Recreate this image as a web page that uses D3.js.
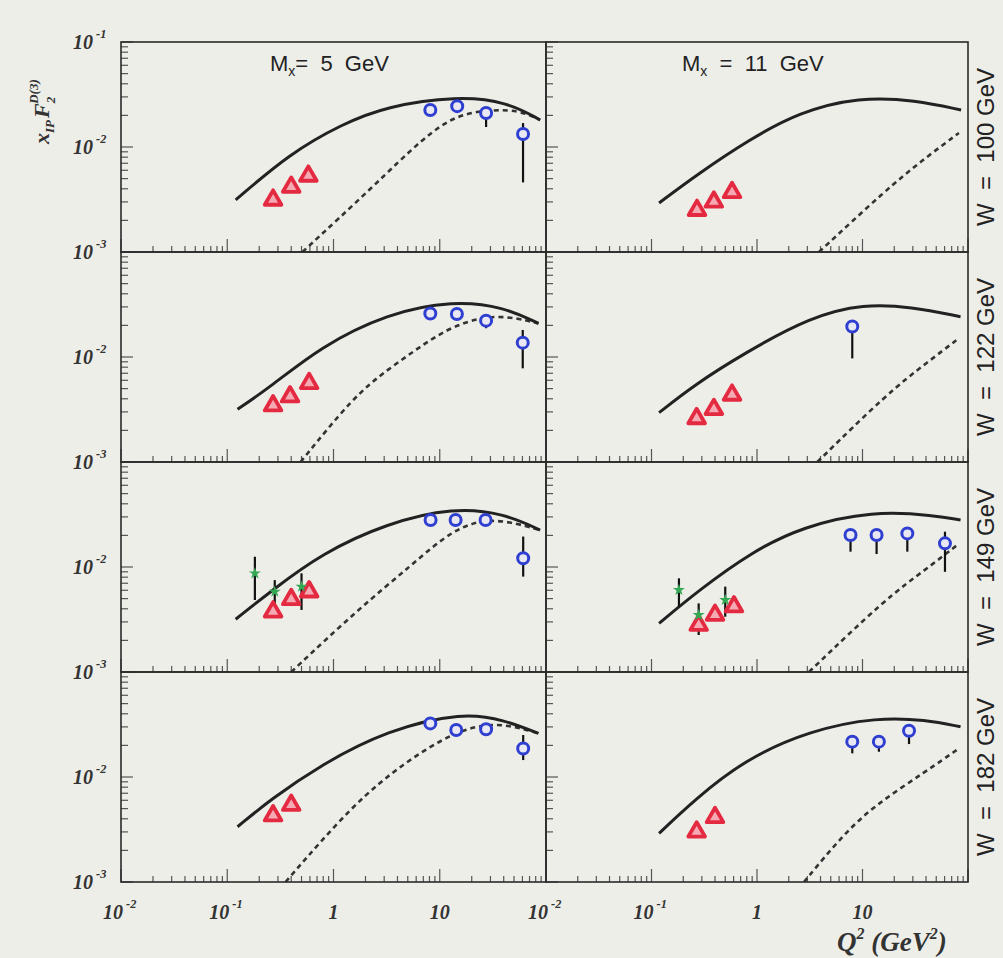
<!DOCTYPE html>
<html>
<head>
<meta charset="utf-8">
<script src="https://cdn.jsdelivr.net/npm/d3@7"></script>
<style>
  body { margin: 0; background: #eeeee9; }
  .tick-label { font-family: "Liberation Serif", "DejaVu Serif", serif; font-style: italic; font-weight: bold; fill: #333; }
  .panel-label { font-family: "Liberation Sans", Arial, sans-serif; fill: #222; white-space: pre; }
</style>
</head>
<body>
<svg id="chart"></svg>
<script>
// ---- data, panels ordered row by row: [W,Mx=5], [W,Mx=11]
const massLabels = ['5', '11'];
const wLabels = ['100', '122', '149', '182'];
const yTickValues = [1e-1, 1e-2, 1e-3];
const xTickLabels = [0.01, 0.1, 1, 10];

// solid model curve, [Q2, xF2]
const solidCurves = [
  [[0.12, 0.00313], [0.39, 0.0087], [1.2, 0.0165], [3.2, 0.0245], [14.6, 0.0305], [43, 0.027], [88, 0.0181]],
  [[0.118, 0.00293], [0.28, 0.0056], [0.84, 0.0117], [2.5, 0.0215], [9.3, 0.0300], [32, 0.028], [86, 0.0225]],
  [[0.125, 0.00318], [0.256, 0.0052], [0.755, 0.0125], [3.19, 0.026], [13.5, 0.0345], [40, 0.030], [85, 0.0209]],
  [[0.118, 0.00295], [0.253, 0.0054], [0.75, 0.0108], [3.23, 0.0242], [10.3, 0.0320], [29, 0.030], [85, 0.0242]],
  [[0.12, 0.00318], [0.264, 0.006], [0.78, 0.0135], [3.13, 0.026], [13.6, 0.0370], [40, 0.0324], [88, 0.0225]],
  [[0.118, 0.00291], [0.28, 0.006], [0.9, 0.014], [2.69, 0.0242], [12.4, 0.0343], [49, 0.031], [85, 0.028]],
  [[0.125, 0.00336], [0.256, 0.0061], [0.755, 0.013], [3.19, 0.028], [16.7, 0.0415], [40, 0.035], [85, 0.026]],
  [[0.118, 0.00291], [0.253, 0.006], [0.75, 0.0145], [3.23, 0.028], [13.8, 0.0370], [40, 0.035], [85, 0.0301]]
];

// dashed model curve, [Q2, xF2]
const dashedCurves = [
  [[0.51, 0.001], [2.37, 0.0042], [7.0, 0.0123], [14.6, 0.0205], [30, 0.0225], [55, 0.0225], [88, 0.0181]],
  [[3.87, 0.001], [16.7, 0.0039], [37, 0.0075], [82, 0.0136]],
  [[0.49, 0.001], [1.55, 0.0042], [3.19, 0.0075], [6.5, 0.0125], [13.5, 0.0202], [34.4, 0.026], [85, 0.0209]],
  [[3.73, 0.001], [17.2, 0.0045], [40, 0.0087], [82, 0.01507]],
  [[0.40, 0.001], [1.68, 0.0039], [5.37, 0.0103], [13.6, 0.0235], [31.7, 0.030], [88, 0.0225]],
  [[3.11, 0.001], [16.6, 0.005], [40, 0.0095], [79, 0.0162]],
  [[0.354, 0.001], [1.55, 0.0056], [4.57, 0.0135], [13.5, 0.027], [34.4, 0.034], [85, 0.026]],
  [[2.79, 0.001], [6.68, 0.0029], [13.8, 0.0056], [40, 0.0113], [82, 0.0187]]
];

// open circles, [Q2, value, low, high]
const circlePoints = [
  [[8.15, 0.0225, 0.0208, 0.0243], [14.6, 0.0245, 0.0228, 0.0263], [27.3, 0.0211, 0.0155, 0.0225], [60.8, 0.0133, 0.0046, 0.0169]],
  [],
  [[8.15, 0.026, 0.0242, 0.0278], [14.5, 0.0257, 0.0235, 0.0278], [27.3, 0.0222, 0.0188, 0.024], [60.4, 0.0137, 0.0078, 0.0181]],
  [[8.0, 0.0195, 0.0097, 0.021]],
  [[8.2, 0.028, 0.0262, 0.030], [14.1, 0.028, 0.0262, 0.030], [27, 0.028, 0.025, 0.031], [61, 0.0121, 0.0081, 0.0195]],
  [[7.7, 0.0202, 0.014, 0.0215], [13.6, 0.0202, 0.0133, 0.0215], [26.6, 0.0209, 0.014, 0.022], [60.5, 0.0168, 0.009, 0.0217]],
  [[8.15, 0.0324, 0.030, 0.034], [14.3, 0.028, 0.026, 0.030], [27.3, 0.0285, 0.0265, 0.030], [61, 0.0187, 0.0145, 0.0251]],
  [[8.0, 0.0217, 0.0168, 0.023], [14.3, 0.0217, 0.0174, 0.023], [27.6, 0.0276, 0.0206, 0.029]]
];

// triangles, [Q2, value]
const trianglePoints = [
  [[0.27, 0.00313], [0.40, 0.00416], [0.58, 0.0053]],
  [[0.27, 0.0025], [0.39, 0.003], [0.58, 0.0037]],
  [[0.27, 0.00344], [0.39, 0.00419], [0.59, 0.00562]],
  [[0.268, 0.0026], [0.39, 0.00318], [0.58, 0.00435]],
  [[0.27, 0.00375], [0.40, 0.00492], [0.59, 0.00582]],
  [[0.28, 0.0028], [0.40, 0.00349], [0.605, 0.00419]],
  [[0.27, 0.00429], [0.40, 0.0054]],
  [[0.268, 0.00301], [0.40, 0.00413]]
];

// green points (W = 149 GeV only), [Q2, value, low, high]
const greenPoints = [
  [], [], [], [],
  [[0.182, 0.0087, 0.00485, 0.01253], [0.28, 0.00582, 0.00336, 0.0075], [0.50, 0.0065, 0.0039, 0.0087]],
  [[0.182, 0.00604, 0.0042, 0.0078], [0.28, 0.00349, 0.00225, 0.0045], [0.50, 0.00485, 0.00336, 0.0065]],
  [], []
];

// ---- layout
const W = 1003, H = 958;
const colRange = [[121, 546], [546, 968]];
const top0 = 42, rowH = 210;

const svg = d3.select('#chart').attr('width', W).attr('height', H);
svg.append('rect').attr('width', W).attr('height', H).attr('fill', '#eeeee9');

const isDecade = t => Math.abs(Math.log10(t) - Math.round(Math.log10(t))) < 1e-6;

// "10" with a superscript exponent, base ends at anchorEndAt
function powerLabel(g, y, exp, anchorEndAt, size) {
  g.append('text').attr('class', 'tick-label')
    .attr('x', anchorEndAt).attr('y', y)
    .attr('text-anchor', 'end')
    .attr('font-size', size)
    .text('10');
  g.append('text').attr('class', 'tick-label')
    .attr('x', anchorEndAt + 3).attr('y', y - size * 0.55)
    .attr('font-size', size * 0.62)
    .text(exp);
}

for (let r = 0; r < 4; r++) {
  for (let c = 0; c < 2; c++) {
    const i = r * 2 + c;
    const top = top0 + rowH * r, bottom = top + rowH;
    const [x0, x1] = colRange[c];

    const x = d3.scaleLog().domain([0.01, 100]).range([x0, x1]);
    const y = d3.scaleLog().domain([1e-3, 1e-1]).range([bottom, top]);

    const g = svg.append('g');
    const clipId = `clip-${i}`;
    g.append('clipPath').attr('id', clipId)
      .append('rect').attr('x', x0).attr('y', top).attr('width', x1 - x0).attr('height', rowH);

    // x ticks on the bottom axis, pointing up
    g.append('g').selectAll('line')
      .data(x.ticks())
      .join('line')
      .attr('x1', d => x(d)).attr('x2', d => x(d))
      .attr('y1', bottom).attr('y2', d => bottom - (isDecade(d) ? 13 : 6))
      .attr('stroke', '#555').attr('stroke-width', 1.2);

    // y ticks on the left edge, pointing right
    g.append('g').selectAll('line')
      .data(y.ticks())
      .join('line')
      .attr('x1', x0).attr('x2', d => x0 + (isDecade(d) ? 12 : 7))
      .attr('y1', d => y(d)).attr('y2', d => y(d))
      .attr('stroke', '#555').attr('stroke-width', 1.2);

    // smooth curves through the read points
    const line = d3.line()
      .x(d => x(d[0]))
      .y(d => y(d[1]))
      .curve(d3.curveBasis);

    const plot = g.append('g').attr('clip-path', `url(#${clipId})`);

    plot.append('path')
      .datum(dashedCurves[i])
      .attr('d', line)
      .attr('fill', 'none')
      .attr('stroke', '#333')
      .attr('stroke-width', 2.6)
      .attr('stroke-dasharray', '5,4');

    plot.append('path')
      .datum(solidCurves[i])
      .attr('d', line)
      .attr('fill', 'none')
      .attr('stroke', '#222')
      .attr('stroke-width', 3);

    // error bars
    const bars = circlePoints[i].concat(greenPoints[i]);
    plot.append('g').selectAll('line')
      .data(bars)
      .join('line')
      .attr('x1', d => x(d[0])).attr('x2', d => x(d[0]))
      .attr('y1', d => y(d[2])).attr('y2', d => y(d[3]))
      .attr('stroke', '#111').attr('stroke-width', 2.2);

    // triangles
    plot.append('g').selectAll('path')
      .data(trianglePoints[i])
      .join('path')
      .attr('transform', d => `translate(${x(d[0])},${y(d[1])})`)
      .attr('d', d3.symbol().type(d3.symbolTriangle).size(120))
      .attr('fill', '#f5aab3')
      .attr('stroke', '#e42a40')
      .attr('stroke-width', 3.8)
      .attr('stroke-linejoin', 'round');

    // green points
    plot.append('g').selectAll('path')
      .data(greenPoints[i])
      .join('path')
      .attr('transform', d => `translate(${x(d[0])},${y(d[1])})`)
      .attr('d', d3.symbol().type(d3.symbolStar).size(45))
      .attr('fill', '#35a853');

    // open circles
    plot.append('g').selectAll('circle')
      .data(circlePoints[i])
      .join('circle')
      .attr('cx', d => x(d[0])).attr('cy', d => y(d[1]))
      .attr('r', 5.5)
      .attr('fill', '#e8e8f4')
      .attr('stroke', '#2f3fd0')
      .attr('stroke-width', 3);

    // frame
    g.append('rect')
      .attr('x', x0).attr('y', top)
      .attr('width', x1 - x0).attr('height', rowH)
      .attr('fill', 'none')
      .attr('stroke', '#2a2a2a')
      .attr('stroke-width', 1.6);

    // y tick labels, left column only
    if (c === 0) {
      const vals = r === 0 ? yTickValues : yTickValues.slice(1);
      vals.forEach(v => powerLabel(svg, y(v) + 7, String(Math.round(Math.log10(v))), 93, 20));
    }

    // x tick labels, bottom row only
    if (r === 3) {
      xTickLabels.forEach(v => {
        const px = x(v), py = 919;
        if (v < 1) {
          powerLabel(svg, py, String(Math.round(Math.log10(v))), px + 2, 20);
        } else {
          svg.append('text').attr('class', 'tick-label')
            .attr('x', px).attr('y', py)
            .attr('text-anchor', 'middle')
            .attr('font-size', 20)
            .text(v === 1 ? '1' : '10');
        }
      });
    }

    // W labels on the right
    if (c === 1) {
      svg.append('text').attr('class', 'panel-label')
        .attr('transform', `translate(994,${(top + bottom) / 2}) rotate(-90)`)
        .attr('text-anchor', 'middle')
        .attr('font-size', 24)
        .text(`W  =  ${wLabels[r]} GeV`);
    }
  }
}

// column headers
const headerPos = [{ x: 270, eq: '=  ' }, { x: 682, eq: '  =  ' }];
headerPos.forEach((h, c) => {
  const t = svg.append('text').attr('class', 'panel-label')
    .attr('x', h.x).attr('y', 71)
    .attr('font-size', 22);
  t.append('tspan').text('M');
  t.append('tspan').attr('font-size', 14).attr('dy', 5).text('x');
  t.append('tspan').attr('dy', -5).text(h.eq + massLabels[c] + '  GeV');
});

// y-axis title
const yt = svg.append('text').attr('class', 'tick-label')
  .attr('transform', 'translate(49,144) rotate(-90)')
  .attr('font-size', 22);
yt.append('tspan').text('x');
yt.append('tspan').attr('font-size', 13).attr('dy', 5).text('IP');
yt.append('tspan').attr('dy', -5).attr('dx', 2).text('F');
yt.append('tspan').attr('font-size', 13).attr('dy', 6).text('2');
yt.append('tspan').attr('font-size', 13).attr('dy', -17).attr('dx', -7).text('D(3)');

// x-axis title
const xt = svg.append('text').attr('class', 'tick-label')
  .attr('x', 837).attr('y', 951)
  .attr('font-size', 27);
xt.append('tspan').text('Q');
xt.append('tspan').attr('font-size', 16).attr('dy', -12).text('2');
xt.append('tspan').attr('dy', 12).text(' (GeV');
xt.append('tspan').attr('font-size', 16).attr('dy', -12).text('2');
xt.append('tspan').attr('dy', 12).text(')');
</script>
</body>
</html>
